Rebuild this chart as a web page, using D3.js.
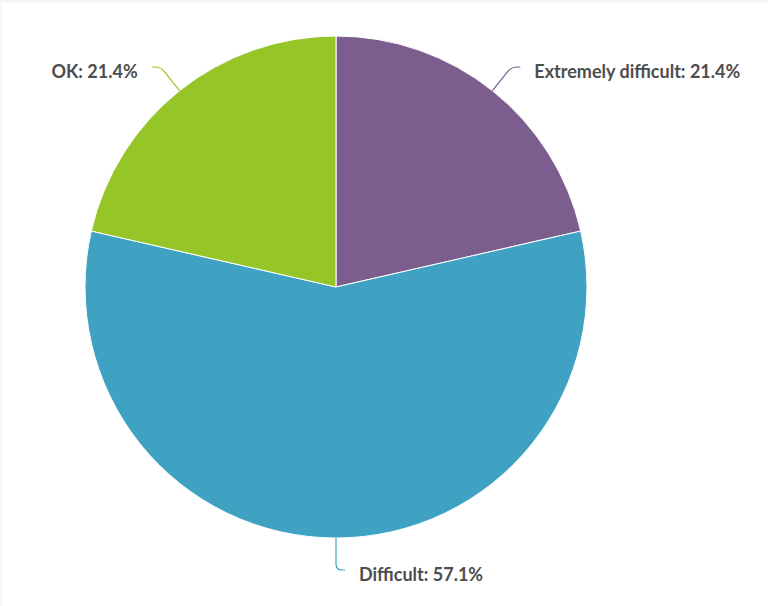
<!DOCTYPE html>
<html>
<head>
<meta charset="utf-8">
<script src="https://cdn.jsdelivr.net/npm/d3@7"></script>
<style>
  html, body { margin: 0; padding: 0; background: #f6f6f9; }
  svg { display: block; }
</style>
</head>
<body>
<svg id="chart" width="768" height="606"></svg>
<script>
const categories = ["Extremely difficult", "Difficult", "OK"];
const values = [21.4, 57.1, 21.4];
const colors = ["#7b5e8e", "#3fa2c2", "#95c526"];

const W = 768, H = 606;
const cx = 336, cy = 287, R = 251;

const svg = d3.select("#chart");
svg.append("rect").attr("x", 2).attr("y", 3).attr("width", W - 2).attr("height", H - 3).attr("fill", "#ffffff");

const data = categories.map((c, i) => ({ name: c, value: values[i], color: colors[i] }));
const pie = d3.pie().value(d => d.value).sort(null);
const arcs = pie(data);
const arc = d3.arc().innerRadius(0).outerRadius(R);

const g = svg.append("g").attr("transform", `translate(${cx},${cy})`);
g.selectAll("path.slice").data(arcs).enter().append("path")
  .attr("class", "slice")
  .attr("d", arc)
  .attr("fill", d => d.data.color)
  .attr("stroke", "#ffffff")
  .attr("stroke-width", 1)
  .attr("stroke-linejoin", "round");

// connectors & labels
const corners = { "Extremely difficult": -220, "Difficult": 283, "OK": -220 };
arcs.forEach(d => {
  const a = (d.startAngle + d.endAngle) / 2;
  const dx = Math.sin(a), dy = -Math.cos(a);
  const p0 = [dx * R, dy * R];
  const cornerY = corners[d.data.name];
  const t = Math.abs(dy) > 0.01 ? (cornerY - p0[1]) / dy : 30;
  const c = [p0[0] + dx * t, cornerY];
  const side = dx > 0.01 ? 1 : (dx < -0.01 ? -1 : 1);
  const e = [c[0] + side * 9, cornerY];
  const len = Math.hypot(c[0] - p0[0], c[1] - p0[1]);
  const rr = 6;
  const b = [c[0] - (c[0] - p0[0]) / len * rr, c[1] - (c[1] - p0[1]) / len * rr];
  const path = d3.path();
  path.moveTo(p0[0], p0[1]);
  path.lineTo(b[0], b[1]);
  path.quadraticCurveTo(c[0], c[1], c[0] + side * rr, c[1]);
  path.lineTo(e[0], e[1]);
  g.append("path").attr("d", path.toString())
    .attr("fill", "none").attr("stroke", d.data.color).attr("stroke-width", 1.2);
  g.append("text")
    .attr("x", e[0] + side * 14)
    .attr("y", e[1] + 5)
    .attr("dy", "0.35em")
    .attr("text-anchor", side > 0 ? "start" : "end")
    .attr("font-family", "Lato, 'Open Sans', sans-serif")
    .attr("font-weight", "bold")
    .attr("font-size", "18px")
    .attr("fill", "#4d4d4d")
    .text(`${d.data.name}: ${d.data.value.toFixed(1)}%`);
});
</script>
</body>
</html>
